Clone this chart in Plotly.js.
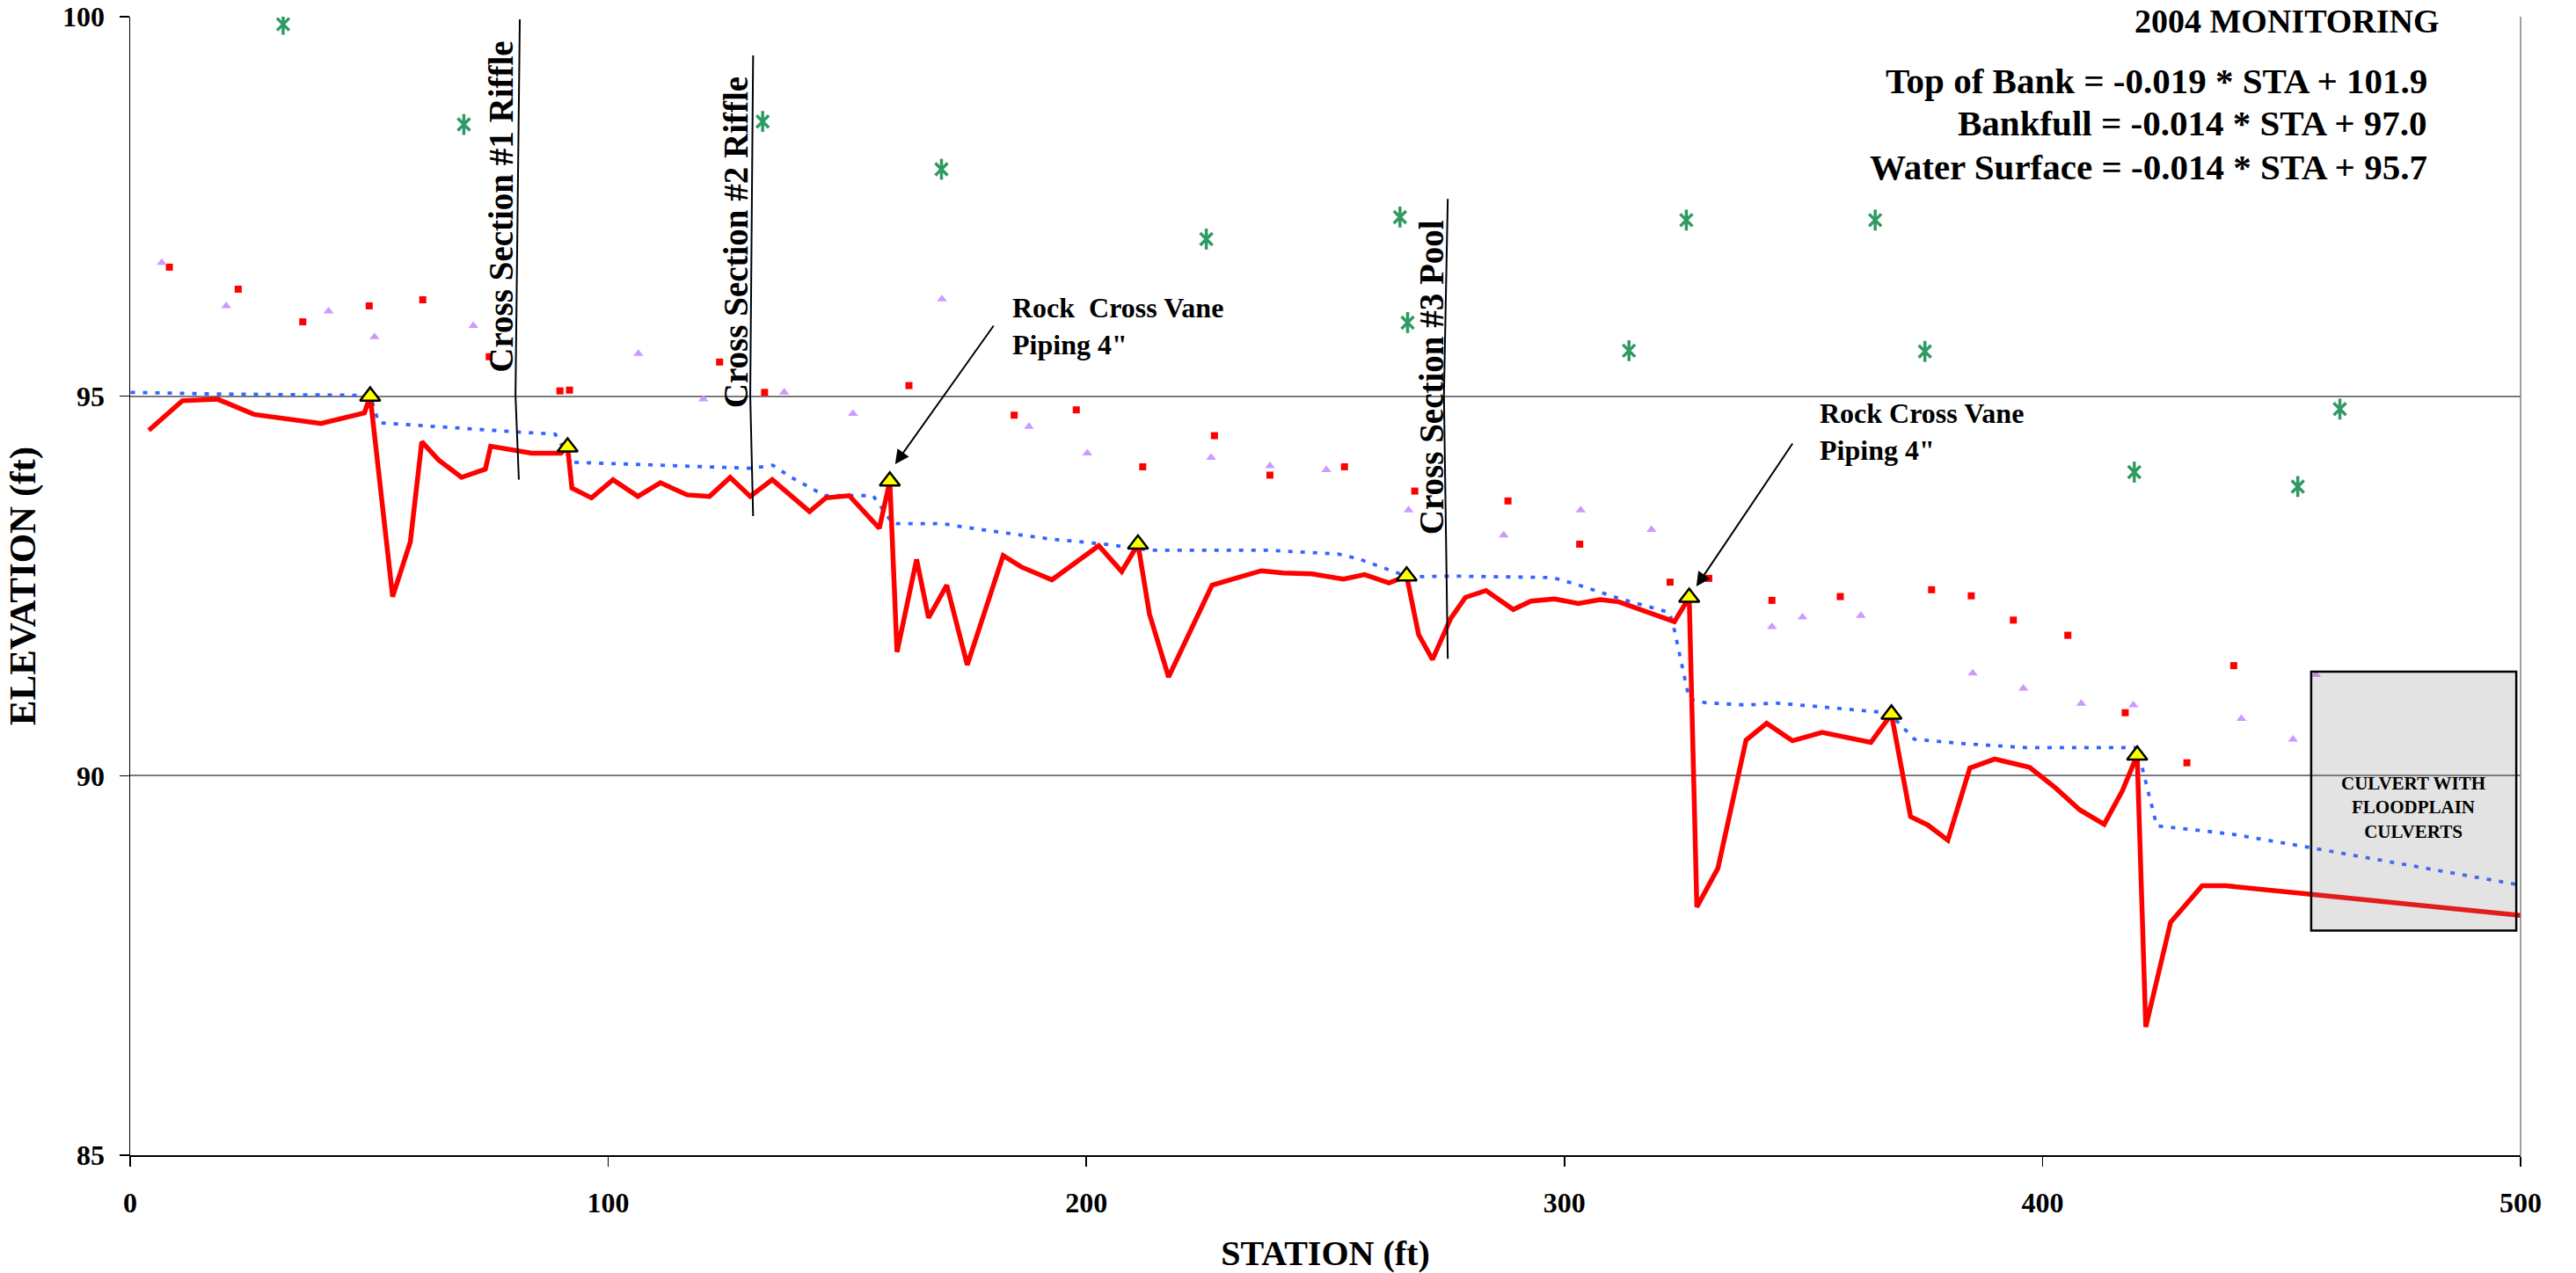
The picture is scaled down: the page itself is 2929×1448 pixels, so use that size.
<!DOCTYPE html>
<html>
<head>
<meta charset="utf-8">
<script src="https://cdn.plot.ly/plotly-3.0.1.min.js"></script>
<style>html,body{margin:0;padding:0;background:#fff;}#chart{width:2929px;height:1448px;}</style>
</head>
<body>
<div id="chart"></div>
<script>
// ---- Data ----
// Thalweg (bed) profile
const bedSta = [3.9,10.9,18.3,25.9,39.9,49.0,50.2,54.9,58.6,61.0,64.5,69.3,74.3,75.4,84.0,90.1,91.5,92.4,96.5,101.0,106.2,110.9,116.5,121.2,125.5,129.7,134.3,142.1,145.5,150.4,156.7,158.9,160.4,164.5,167.0,170.8,175.1,182.6,186.4,192.8,202.6,207.4,210.8,213.2,217.2,226.3,236.6,241.2,247.2,253.8,258.2,263.3,267.0,269.5,272.4,276.2,279.3,283.6,289.3,293.0,297.9,302.9,307.5,311.4,323.0,326.1,327.7,332.1,338.0,342.3,347.7,353.9,364.1,368.4,372.4,376.0,380.2,384.8,390.0,397.3,402.7,407.8,412.9,416.7,419.8,421.6,426.8,433.4,438.4,500.0];
const bedElev = [94.55,94.94,94.96,94.76,94.64,94.78,95.00,92.36,93.08,94.40,94.16,93.93,94.04,94.34,94.25,94.25,94.33,93.79,93.66,93.90,93.68,93.86,93.70,93.68,93.93,93.68,93.90,93.48,93.66,93.69,93.26,93.88,91.63,92.85,92.08,92.51,91.46,92.90,92.75,92.58,93.03,92.69,93.05,92.13,91.30,92.51,92.70,92.67,92.66,92.59,92.65,92.54,92.63,91.86,91.53,92.07,92.35,92.44,92.19,92.30,92.33,92.27,92.32,92.29,92.03,92.35,88.27,88.78,90.47,90.69,90.46,90.57,90.44,90.81,89.46,89.35,89.15,90.10,90.22,90.11,89.84,89.55,89.36,89.80,90.27,86.69,88.07,88.55,88.55,88.16];

// Water surface
const wsSta = [0.1,17.4,50.2,52.0,80.7,88.9,92.4,130.0,134.4,138.3,145.3,155.4,159.5,170.0,177.1,192.3,204.0,213.4,238.1,252.7,256.8,267.4,276.8,297.6,302.6,311.7,322.0,323.0,326.1,329.6,338.4,343.9,354.9,367.6,369.7,373.2,384.0,396.7,419.8,420.7,423.9,439.7,456.2,499.8];
const wsElev = [95.05,95.03,95.01,94.65,94.53,94.50,94.13,94.05,94.09,93.93,93.69,93.69,93.32,93.32,93.25,93.12,93.05,92.97,92.97,92.92,92.86,92.62,92.63,92.61,92.52,92.33,92.15,91.92,91.01,90.96,90.93,90.96,90.90,90.83,90.71,90.48,90.42,90.37,90.37,90.15,89.34,89.23,89.05,88.56];

// Structures (yellow triangles)
const structSta = [50.2,91.5,158.9,210.8,267.0,326.1,368.4,419.8];
const structElev = [95.00,94.33,93.88,93.05,92.63,92.35,90.81,90.27];

// Bankfull (red squares)
const bkfSta = [8.2,22.6,36.1,50.0,61.2,75.1,89.9,91.9,123.3,132.7,162.9,184.9,197.9,211.8,226.8,238.4,254.0,268.7,288.2,303.2,322.1,330.2,343.4,357.7,376.8,385.1,393.9,405.3,417.3,430.2,440.0];
const bkfElev = [96.70,96.41,95.98,96.19,96.27,95.52,95.07,95.08,95.45,95.05,95.14,94.75,94.82,94.07,94.48,93.96,94.07,93.75,93.62,93.05,92.55,92.60,92.31,92.36,92.45,92.37,92.05,91.85,90.83,90.17,91.45];

// Bankfull, other bank (violet triangles)
const bk2Sta = [6.6,20.1,41.5,51.1,71.8,106.3,119.9,136.8,151.2,169.8,188.0,200.2,226.1,238.4,250.2,267.4,287.3,303.4,318.2,343.4,349.8,362.0,385.4,396.0,408.1,419.0,441.6,452.4,457.2];
const bk2Elev = [96.76,96.19,96.12,95.78,95.93,95.56,94.96,95.05,94.77,96.28,94.60,94.25,94.19,94.08,94.03,93.50,93.17,93.50,93.24,91.96,92.09,92.11,91.35,91.15,90.95,90.93,90.75,90.48,91.33];

// Top of bank (green stars)
const tobSta = [32.0,69.8,132.3,169.7,225.1,265.6,267.2,313.5,325.5,365.0,375.4,419.2,453.4,462.2];
const tobElev = [99.90,98.58,98.62,97.99,97.07,97.36,95.97,95.60,97.32,97.32,95.59,94.00,93.81,94.83];

// Text
const xTitle = 'STATION (ft)';
const yTitle = 'ELEVATION (ft)';
const monitorLabel = '2004 MONITORING';
const eqLines = ['Top of Bank = -0.019 * STA + 101.9', 'Bankfull = -0.014 * STA + 97.0', 'Water Surface = -0.014 * STA + 95.7'];
const xsLabels = ['Cross Section #1 Riffle', 'Cross Section #2 Riffle', 'Cross Section #3 Pool'];
const vaneLabel = ['Rock&nbsp;&nbsp;Cross Vane<br>Piping 4"', 'Rock Cross Vane<br>Piping 4"'];
const culvertLabel = 'CULVERT WITH<br>FLOODPLAIN<br>CULVERTS';

// ---- Styling / layout ----
const FAM = 'Liberation Serif, Times New Roman, serif';
const bold = (s) => ({family: FAM, size: s, color: '#000', weight: 'bold'});
const GREEN = '#2f9a62';

const traces = [
  {x: wsSta, y: wsElev, type: 'scatter', mode: 'lines', name: 'Water Surface',
   line: {color: '#3366ff', width: 3.8, dash: '5px,9px'}, hoverinfo: 'skip'},
  {x: bedSta, y: bedElev, type: 'scatter', mode: 'lines', name: 'Thalweg',
   line: {color: '#ff0000', width: 5.5}, hoverinfo: 'skip'},
  {x: bkfSta, y: bkfElev, type: 'scatter', mode: 'markers', name: 'Bankfull',
   marker: {symbol: 'square', color: '#ff0000', size: 8, line: {width: 0}}, hoverinfo: 'skip'},
  {x: bk2Sta, y: bk2Elev, type: 'scatter', mode: 'markers', name: 'Bankfull 2',
   marker: {symbol: 'triangle-up', color: '#cc99ff', size: 10, line: {width: 0}}, hoverinfo: 'skip'},
  {x: tobSta, y: tobElev, type: 'scatter', mode: 'markers', name: 'Top of Bank',
   marker: {symbol: 'x-thin-open', color: GREEN, size: 14, line: {color: GREEN, width: 3.5}}, hoverinfo: 'skip'},
  {x: tobSta, y: tobElev, type: 'scatter', mode: 'markers', name: 'Top of Bank ',
   marker: {symbol: 'line-ns-open', color: GREEN, size: 17, line: {color: GREEN, width: 3.5}}, hoverinfo: 'skip'},
  {x: structSta, y: structElev, type: 'scatter', mode: 'markers', name: 'Structures',
   marker: {symbol: 'triangle-up', color: '#ffff00', size: 20, line: {color: '#000', width: 2.5}}, hoverinfo: 'skip'}
];

const annotations = [
  {xref: 'x', yref: 'paper', x: 483.4, y: 0.9961, xanchor: 'right', yanchor: 'middle',
   text: monitorLabel, showarrow: false, font: bold(38)},
  {xref: 'x', yref: 'y', x: 480.9, y: 99.154, xanchor: 'right', yanchor: 'middle', text: eqLines[0], showarrow: false, font: bold(41)},
  {xref: 'x', yref: 'y', x: 480.9, y: 98.598, xanchor: 'right', yanchor: 'middle', text: eqLines[1], showarrow: false, font: bold(41)},
  {xref: 'x', yref: 'y', x: 480.9, y: 98.019, xanchor: 'right', yanchor: 'middle', text: eqLines[2], showarrow: false, font: bold(41)},
  {xref: 'x', yref: 'y', x: 77.6, y: 97.50, textangle: -90, xanchor: 'center', yanchor: 'middle', text: xsLabels[0], showarrow: false, font: bold(39)},
  {xref: 'x', yref: 'y', x: 126.7, y: 97.03, textangle: -90, xanchor: 'center', yanchor: 'middle', text: xsLabels[1], showarrow: false, font: bold(39)},
  {xref: 'x', yref: 'y', x: 272.1, y: 95.25, textangle: -90, xanchor: 'center', yanchor: 'middle', text: xsLabels[2], showarrow: false, font: bold(39)},
  {xref: 'x', yref: 'y', x: 184.1, y: 95.923, xanchor: 'left', yanchor: 'middle', align: 'left', text: vaneLabel[0], showarrow: false, font: bold(32)},
  {xref: 'x', yref: 'y', x: 353.0, y: 94.533, xanchor: 'left', yanchor: 'middle', align: 'left', text: vaneLabel[1], showarrow: false, font: bold(32)},
  {xref: 'x', yref: 'y', x: 160.0, y: 94.104, axref: 'x', ayref: 'y', ax: 180.8, ay: 95.946, text: '', showarrow: true,
   arrowhead: 2, arrowsize: 1.6, arrowwidth: 2, arrowcolor: '#000', standoff: 0},
  {xref: 'x', yref: 'y', x: 327.6, y: 92.494, axref: 'x', ayref: 'y', ax: 347.9, ay: 94.394, text: '', showarrow: true,
   arrowhead: 2, arrowsize: 1.6, arrowwidth: 2, arrowcolor: '#000', standoff: 0},
  {xref: 'x', yref: 'y', x: 477.6, y: 89.586, xanchor: 'center', yanchor: 'middle', align: 'center', text: culvertLabel, showarrow: false, font: bold(21)}
];

const shapes = [
  {type: 'path', xref: 'x', yref: 'y', path: 'M81.5,99.965 L80.6,95.01 L81.3,93.90', line: {color: '#000', width: 2}},
  {type: 'path', xref: 'x', yref: 'y', path: 'M130.3,99.49 L129.7,95.01 L130.3,93.42', line: {color: '#000', width: 2}},
  {type: 'path', xref: 'x', yref: 'y', path: 'M275.6,97.60 L274.8,95.01 L275.6,91.54', line: {color: '#000', width: 2}},
  {type: 'rect', xref: 'x', yref: 'y', x0: 456.2, x1: 499.1, y0: 87.96, y1: 91.37, layer: 'above',
   fillcolor: 'rgba(128,128,128,0.22)', line: {color: '#000', width: 2.5}},
  {type: 'line', xref: 'paper', yref: 'paper', x0: 1, x1: 1, y0: 0, y1: 1, line: {color: '#808080', width: 1.5}}
];

const layout = {
  width: 2929, height: 1448,
  margin: {l: 148, r: 63, t: 19, b: 134, pad: 0},
  paper_bgcolor: '#fff', plot_bgcolor: '#fff',
  showlegend: false,
  font: {family: FAM, color: '#000', weight: 'bold'},
  xaxis: {
    range: [0, 500], tick0: 0, dtick: 100, showgrid: false, zeroline: false,
    showline: true, linecolor: '#000', linewidth: 2,
    ticks: 'outside', ticklen: 11, tickwidth: 1.5, tickcolor: '#000',
    tickfont: bold(32), ticklabelstandoff: 14,
    title: {text: xTitle, font: bold(40), standoff: 38}
  },
  yaxis: {
    range: [85, 100], tick0: 85, dtick: 5, showgrid: true, gridcolor: '#7a7a7a', gridwidth: 2,
    zeroline: false, showline: true, linecolor: '#000', linewidth: 1.5,
    ticks: 'outside', ticklen: 11, tickwidth: 1.5, tickcolor: '#000',
    tickfont: bold(32), ticklabelstandoff: 10,
    title: {text: yTitle, font: bold(43), standoff: 17}
  },
  annotations: annotations,
  shapes: shapes
};

Plotly.newPlot('chart', traces, layout, {displayModeBar: false, staticPlot: true});
</script>
</body>
</html>
